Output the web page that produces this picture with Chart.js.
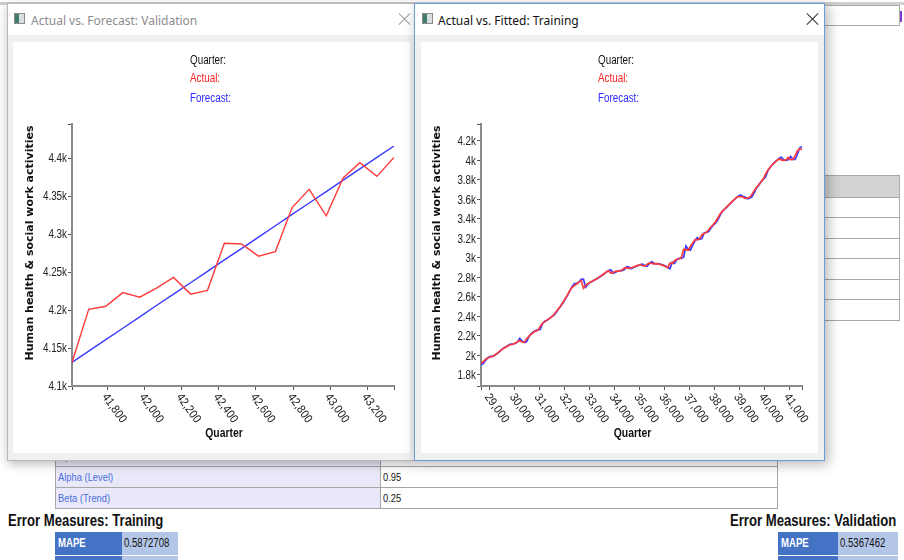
<!DOCTYPE html>
<html>
<head>
<meta charset="utf-8">
<script src="https://cdn.jsdelivr.net/npm/chart.js@4.4.1/dist/chart.umd.min.js"></script>
<style>
  html, body { margin: 0; padding: 0; background: #fff; }
  body { width: 904px; height: 560px; overflow: hidden; position: relative;
         font-family: "Liberation Sans", Arial, sans-serif; }
  .abs { position: absolute; box-sizing: border-box; }
  .nar { display: inline-block; transform-origin: 0 50%; white-space: nowrap; }
  .topline { left: 0; top: 2px; width: 904px; height: 3px; background: #cfcfcf; }
  .win { top: 3px; height: 458px; background: #f0f0f0; }
  .win.left { left: 7px; width: 409px; border: 1px solid #b9b9b9; box-shadow: 1px 3px 10px rgba(0,0,0,0.28); }
  .win.right { left: 414px; width: 411px; border: 1px solid #6a9fd6; box-shadow: 3px 3px 12px rgba(0,0,0,0.30); }
  .titlebar { top: 0; left: 0; right: 0; height: 31px; background: #fff; }
  .wtitle { top: 8px; font-family: "Segoe UI", "Noto Sans", "Open Sans", sans-serif; font-size: 12px; white-space: nowrap; }
  .icon { top: 9px; width: 11px; height: 11px; border: 1px solid #8a8a8a;
          background: linear-gradient(90deg, #3f7d6a 0 45%, #d7dde0 45% 100%); }
  .close { top: 8px; width: 14px; height: 14px; }
  .close::before, .close::after { content: ""; position: absolute; left: 7px; top: -1px; width: 1px; height: 16px; background: currentColor; }
  .close::before { transform: rotate(45deg); }
  .close::after { transform: rotate(-45deg); }
  .panel { top: 38px; width: 397px; height: 411px; background: #fff; }
  .legend { font-size: 12px; line-height: 14px; }
  .legend .nar { transform: scaleX(0.82); }
  table.params { position: absolute; left: 55px; top: 445px; border-collapse: collapse; width: 723px; table-layout: fixed; }
  table.params td { border: 1px solid #a6a6a6; height: 20px; padding: 0 2px; font-size: 11px; overflow: hidden; }
  table.params td .nar { transform: scaleX(0.85); }
  table.params td.k { width: 320px; background: #e8e8f8; color: #4a6de0; }
  table.params td.v { background: #fff; color: #111; }
  .hdr { font-weight: bold; font-size: 16px; color: #111; line-height: 18px; }
  .hdr .nar { transform: scaleX(0.82); }
  .cell { height: 23px; font-size: 12px; line-height: 23px; overflow: hidden; }
  .cell .nar { transform: scaleX(0.8); }
  .mk { background: #4472c4; color: #fff; font-weight: bold; padding-left: 3px; }
  .mv { background: #b4c6e7; color: #111; padding-left: 2px; }
  .bg { border: 1px solid #a9a9a9; background: #fff; }
</style>
</head>
<body>
<div class="abs topline"></div>

<!-- background sheet elements -->
<div class="abs bg" style="left:820px;top:5px;width:80px;height:21px;"></div>
<div class="abs" style="left:900px;top:11px;width:2px;height:11px;background:#7b3fd0;"></div>
<div class="abs bg" style="left:820px;top:175px;width:80px;height:23px;background:#d3d3d3;"></div>
<div class="abs bg" style="left:820px;top:197px;width:80px;height:21px;"></div>
<div class="abs bg" style="left:820px;top:217px;width:80px;height:22px;"></div>
<div class="abs bg" style="left:820px;top:238px;width:80px;height:21px;"></div>
<div class="abs bg" style="left:820px;top:258px;width:80px;height:22px;"></div>
<div class="abs bg" style="left:820px;top:279px;width:80px;height:21px;"></div>
<div class="abs bg" style="left:820px;top:299px;width:80px;height:22px;"></div>

<table class="params">
  <tr><td class="k"><span class="nar">Optimize Params</span></td><td class="v"><span class="nar">No</span></td></tr>
  <tr><td class="k"><span class="nar">Alpha (Level)</span></td><td class="v"><span class="nar">0.95</span></td></tr>
  <tr><td class="k"><span class="nar">Beta (Trend)</span></td><td class="v"><span class="nar">0.25</span></td></tr>
</table>

<div class="abs hdr" style="left:8px;top:512px;"><span class="nar">Error Measures: Training</span></div>
<div class="abs hdr" style="left:730px;top:512px;"><span class="nar">Error Measures: Validation</span></div>
<div class="abs cell mk" style="left:55px;top:532px;width:67px;"><span class="nar">MAPE</span></div>
<div class="abs cell mv" style="left:122px;top:532px;width:56px;"><span class="nar">0.5872708</span></div>
<div class="abs" style="left:55px;top:556px;width:67px;height:6px;background:#4472c4;"></div>
<div class="abs" style="left:122px;top:556px;width:56px;height:6px;background:#b4c6e7;"></div>
<div class="abs cell mk" style="left:778px;top:532px;width:60px;"><span class="nar">MAPE</span></div>
<div class="abs cell mv" style="left:838px;top:532px;width:60px;"><span class="nar">0.5367462</span></div>
<div class="abs" style="left:778px;top:556px;width:60px;height:6px;background:#4472c4;"></div>
<div class="abs" style="left:838px;top:556px;width:60px;height:6px;background:#b4c6e7;"></div>

<!-- validation window -->
<div class="abs win left">
  <div class="abs titlebar"></div>
  <div class="abs icon" style="left:6px;"></div>
  <div class="abs wtitle" style="left:23px;color:#8c8c8c;">Actual vs. Forecast: Validation</div>
  <div class="abs close" style="left:389px;color:#a0a0a0;"></div>
  <div class="abs panel" style="left:5px;">
    <canvas id="valChart" width="397" height="411"></canvas>
  </div>
  <div class="abs legend" style="left:182px;top:49px;color:#111;"><span class="nar">Quarter:</span></div>
  <div class="abs legend" style="left:182px;top:67px;color:#ff1f1f;"><span class="nar">Actual:</span></div>
  <div class="abs legend" style="left:182px;top:87px;color:#2a2aff;"><span class="nar">Forecast:</span></div>
</div>

<!-- training window -->
<div class="abs win right">
  <div class="abs titlebar"></div>
  <div class="abs icon" style="left:7px;"></div>
  <div class="abs wtitle" style="left:23px;color:#111;">Actual vs. Fitted: Training</div>
  <div class="abs close" style="left:390px;color:#333;"></div>
  <div class="abs panel" style="left:6px;">
    <canvas id="trainChart" width="397" height="411"></canvas>
  </div>
  <div class="abs legend" style="left:183px;top:49px;color:#111;"><span class="nar">Quarter:</span></div>
  <div class="abs legend" style="left:183px;top:67px;color:#ff1f1f;"><span class="nar">Actual:</span></div>
  <div class="abs legend" style="left:183px;top:87px;color:#2a2aff;"><span class="nar">Forecast:</span></div>
</div>

<script>
// Quarter axis uses spreadsheet serial day numbers (days since 1899-12-30).
function excelSerial(year, month) {
  return Math.round((Date.UTC(year, month - 1, 1) - Date.UTC(1899, 11, 30)) / 86400000);
}
function quarterSerials(startYear, startMonth, count) {
  const out = [];
  for (let i = 0; i < count; i++) {
    const m = startMonth - 1 + 3 * i;
    out.push(excelSerial(startYear + Math.floor(m / 12), (m % 12) + 1));
  }
  return out;
}

// ---- Validation period (Dec 2013 – Sep 2018) ----
const validationActual = [4131, 4201, 4205, 4223, 4217, 4229, 4243, 4221, 4226, 4288,
                          4287, 4271, 4277, 4335, 4359, 4324, 4374, 4394, 4376, 4401];
const validationForecast = [4131, 4146, 4161, 4176, 4191, 4206, 4221, 4236, 4251, 4266,
                            4281, 4296, 4311, 4326, 4341, 4356, 4371, 4386, 4401, 4416];
const validationQuarters = quarterSerials(2013, 12, validationActual.length);
const validationXTicks = [41800, 42000, 42200, 42400, 42600, 42800, 43000, 43200];
const validationYTicks = [4100, 4150, 4200, 4250, 4300, 4350, 4400];

// ---- Training period (Jun 1978 – Sep 2013) ----
const trainingActual = [
  1920, 1935, 1962, 1975, 1984, 1990, 2003, 2020, 2040, 2058,
  2074, 2088, 2102, 2110, 2116, 2125, 2140, 2152, 2138, 2134,
  2170, 2196, 2218, 2236, 2250, 2258, 2298, 2330, 2345, 2362,
  2380, 2396, 2420, 2448, 2478, 2508, 2545, 2580, 2622, 2664,
  2700, 2718, 2733, 2752, 2768, 2690, 2718, 2738, 2750, 2764,
  2776, 2790, 2806, 2820, 2838, 2856, 2868, 2846, 2852, 2862,
  2866, 2868, 2876, 2898, 2900, 2890, 2900, 2908, 2916, 2924,
  2930, 2920, 2918, 2935, 2950, 2945, 2940, 2942, 2938, 2932,
  2924, 2912, 2902, 2948, 2940, 2972, 2984, 2990, 3002, 3090,
  3085, 3080, 3120, 3155, 3188, 3186, 3196, 3238, 3250, 3262,
  3290, 3318, 3342, 3370, 3410, 3450, 3478, 3502, 3526, 3550,
  3572, 3594, 3614, 3630, 3628, 3626, 3612, 3614, 3622, 3650,
  3690, 3722, 3752, 3782, 3808, 3862, 3900, 3930, 3958, 3978,
  4000, 4018, 4004, 4002, 4006, 4030, 4008, 4010, 4050, 4100,
  4118, 4112
];
const trainingFitted = [
  1905, 1918, 1950, 1978, 1988, 1994, 2000, 2016, 2036, 2060,
  2076, 2090, 2104, 2116, 2118, 2124, 2136, 2175, 2150, 2132,
  2140, 2190, 2222, 2242, 2256, 2264, 2266, 2326, 2352, 2362,
  2378, 2396, 2412, 2440, 2474, 2506, 2538, 2580, 2616, 2662,
  2706, 2738, 2740, 2752, 2780, 2782, 2700, 2730, 2752, 2762,
  2776, 2788, 2802, 2820, 2834, 2854, 2872, 2880, 2844, 2852,
  2866, 2870, 2870, 2880, 2910, 2906, 2890, 2902, 2912, 2922,
  2932, 2936, 2918, 2916, 2944, 2960, 2946, 2940, 2942, 2936,
  2928, 2918, 2902, 2890, 2956, 2944, 2984, 2996, 2996, 3008,
  3122, 3090, 3080, 3132, 3176, 3208, 3192, 3200, 3256, 3262,
  3272, 3306, 3336, 3358, 3388, 3436, 3478, 3500, 3522, 3546,
  3570, 3592, 3614, 3634, 3646, 3632, 3626, 3606, 3612, 3626,
  3668, 3718, 3746, 3778, 3808, 3830, 3894, 3928, 3956, 3982,
  4000, 4022, 4032, 4004, 4000, 4006, 4042, 4010, 4010, 4064,
  4130, 4140
];
const trainingQuarters = quarterSerials(1978, 6, trainingActual.length);
const trainingXTicks = [29000, 30000, 31000, 32000, 33000, 34000, 35000,
                        36000, 37000, 38000, 39000, 40000, 41000];
const trainingYTicks = [1800, 2000, 2200, 2400, 2600, 2800, 3000, 3200,
                        3400, 3600, 3800, 4000, 4200];

const yTitle = 'Human health & social work activities';
const xTitle = 'Quarter';
const tickFont = '12px "Liberation Sans", Arial, sans-serif';
const NARROW = 0.82;

function points(xs, ys) { return xs.map((x, i) => ({ x: x, y: ys[i] })); }
function kLabel(v) { return (v / 1000) + 'k'; }

function narrowText(ctx, text, x, y, align, sx) {
  ctx.save();
  ctx.translate(x, y);
  ctx.scale(sx, 1);
  ctx.textAlign = align;
  ctx.fillText(text, 0, 0);
  ctx.restore();
}

// Tick labels (narrow face, rotated quarter labels) and axis titles
const axisDecor = {
  id: 'axisDecor',
  afterDraw(chart, args, opts) {
    const { ctx, chartArea } = chart;
    const xs = chart.scales.x, ys = chart.scales.y;
    ctx.save();
    ctx.fillStyle = '#222';
    ctx.font = tickFont;
    ctx.textBaseline = 'middle';
    opts.yTicks.forEach(v => {
      narrowText(ctx, kLabel(v), chartArea.left - 5, ys.getPixelForValue(v) + 1, 'right', NARROW);
    });
    opts.xTicks.forEach(v => {
      const px = xs.getPixelForValue(v);
      ctx.save();
      ctx.translate(px - 3, chartArea.bottom + 9);
      ctx.rotate(54 * Math.PI / 180);
      ctx.scale(0.9, 1);
      ctx.textAlign = 'left';
      ctx.fillText(v.toLocaleString('en-US'), 0, 0);
      ctx.restore();
    });
    ctx.fillStyle = '#111';
    ctx.font = 'bold 13px "Liberation Sans", Arial, sans-serif';
    narrowText(ctx, xTitle, (chartArea.left + chartArea.right) / 2 - 9, chartArea.bottom + 47, 'center', 0.8);
    ctx.save();
    ctx.translate(opts.titleX, opts.titleY);
    ctx.rotate(-Math.PI / 2);
    ctx.textAlign = 'center';
    ctx.font = 'bold 11px "DejaVu Sans", sans-serif';
    ctx.fillText(yTitle, 0, 0);
    ctx.restore();
    ctx.restore();
  }
};

function withBounds(list, min, max) {
  const vals = [min].concat(list.filter(v => v > min && v < max), [max]);
  return vals.map(v => ({ value: v }));
}

function makeChart(id, xs, actual, fitted, cfg) {
  const xMin = xs[0], xMax = xs[xs.length - 1];
  return new Chart(document.getElementById(id), {
    type: 'line',
    data: {
      datasets: [
        { label: 'Actual', data: points(xs, actual), borderColor: '#ff3c3c', borderWidth: cfg.lw,
          pointRadius: 0, tension: 0, fill: false },
        { label: 'Forecast', data: points(xs, fitted), borderColor: '#3a3aff', borderWidth: cfg.lw,
          pointRadius: 0, tension: 0, fill: false }
      ]
    },
    options: {
      responsive: false,
      animation: false,
      devicePixelRatio: 1,
      layout: { padding: { top: 82, right: 16, left: 0, bottom: 0 } },
      plugins: { legend: { display: false }, tooltip: { enabled: false },
                 axisDecor: { xTicks: cfg.xTicks, yTicks: cfg.yTicks, titleX: cfg.titleX, titleY: 201 } },
      scales: {
        x: {
          type: 'linear',
          min: xMin, max: xMax,
          ticks: { display: false, autoSkip: false },
          afterBuildTicks(s) { s.ticks = withBounds(cfg.xTicks, xMin, xMax); },
          grid: { display: true, drawOnChartArea: false, drawTicks: true, tickLength: 4, color: '#555' },
          border: { display: true, color: '#8a8a8a', width: 2 },
          afterFit(s) { s.height = 67; }
        },
        y: {
          min: cfg.yMin, max: cfg.yMax,
          ticks: { display: false, autoSkip: false },
          afterBuildTicks(s) { s.ticks = withBounds(cfg.yTicks, cfg.yMin, cfg.yMax); },
          grid: { display: true, drawOnChartArea: false, drawTicks: true, tickLength: 4, color: '#555' },
          border: { display: true, color: '#8a8a8a', width: 2 },
          afterFit(s) { s.width = cfg.yWidth; }
        }
      }
    },
    plugins: [axisDecor]
  });
}

makeChart('valChart', validationQuarters, validationActual, validationForecast,
  { xTicks: validationXTicks, yTicks: validationYTicks, yMin: 4100, yMax: 4445,
    yWidth: 59, titleX: 17, lw: 1.4 });
makeChart('trainChart', trainingQuarters, trainingActual, trainingFitted,
  { xTicks: trainingXTicks, yTicks: trainingYTicks, yMin: 1687, yMax: 4374,
    yWidth: 60, titleX: 16, lw: 1.7 });
</script>
</body>
</html>
